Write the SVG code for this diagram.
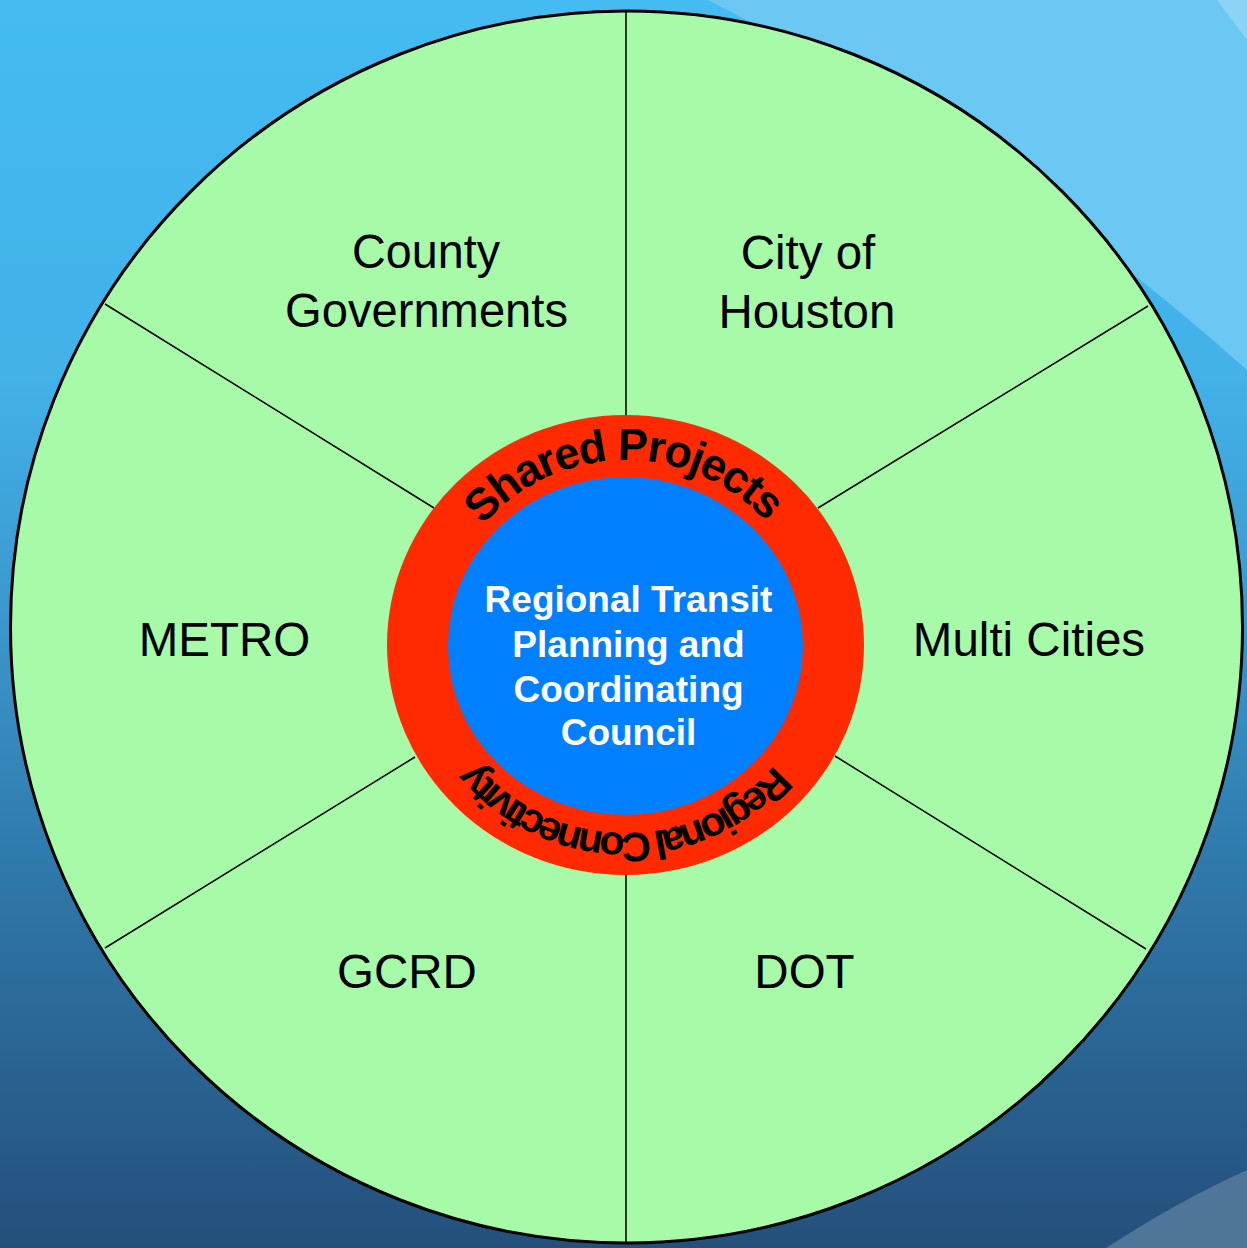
<svg xmlns="http://www.w3.org/2000/svg" width="1247" height="1248" viewBox="0 0 1247 1248">
  <defs>
    <linearGradient id="bg" x1="0" y1="0" x2="0" y2="1">
      <stop offset="0" stop-color="#44bbf1"/>
      <stop offset="0.3" stop-color="#42b2e9"/>
      <stop offset="0.5" stop-color="#3a97cc"/>
      <stop offset="0.7" stop-color="#2f78aa"/>
      <stop offset="1" stop-color="#244f7b"/>
    </linearGradient>
    <path id="arcTop" d="M 436 650 A 190 190 0 0 1 816 650"/>
    <path id="arcBottom" d="M 821 638 A 195 195 0 0 1 431 638"/>
  </defs>
  <style>
    .sector { font-family: "Liberation Sans", Arial, sans-serif; font-size: 47.5px; fill: #000; text-anchor: middle; }
    .center { font-family: "Liberation Sans", Arial, sans-serif; font-size: 37px; font-weight: bold; fill: #fff; text-anchor: middle; }
    .ring { font-family: "Liberation Sans", Arial, sans-serif; font-weight: bold; fill: #000; text-anchor: middle; }
    .conn { stroke: #000; stroke-width: 1.5; fill: none; }
  </style>

  <!-- background -->
  <rect x="0" y="0" width="1247" height="1248" fill="url(#bg)"/>
  <path d="M 708 0 Q 1000 150 1247 370 L 1247 0 Z" fill="#6ac8f3"/>
  <path d="M 1217 0 L 1247 40 L 1247 0 Z" fill="#8cd4f6"/>
  <path d="M 1106 1248 Q 1180 1200 1247 1170 L 1247 1248 Z" fill="#4f7599"/>

  <!-- outer wheel -->
  <g id="wheel">
    <circle cx="626.5" cy="627" r="616" fill="#a7faa7" stroke="#000" stroke-width="3"/>
  </g>

  <!-- connectors (spokes) -->
  <g id="connectors">
    <line class="conn" x1="626" y1="12" x2="626" y2="416"/>
    <line class="conn" x1="626" y1="874" x2="626" y2="1242"/>
    <line class="conn" x1="105" y1="304" x2="434" y2="508"/>
    <line class="conn" x1="1148" y1="306" x2="818" y2="508"/>
    <line class="conn" x1="105" y1="948" x2="415" y2="757"/>
    <line class="conn" x1="1146" y1="949" x2="835" y2="756"/>
  </g>

  <!-- hub -->
  <g id="hub">
    <ellipse cx="625.5" cy="645" rx="238.5" ry="230" fill="#ff2a00"/>
    <ellipse cx="625.5" cy="646" rx="177.5" ry="169" fill="#0080ff"/>
    <text class="ring" font-size="45" letter-spacing="-1.6"><textPath href="#arcTop" startOffset="49.5%">Shared Projects</textPath></text>
    <text class="ring" font-size="41" letter-spacing="-4.5"><textPath href="#arcBottom" startOffset="50%">Regional Connectivity</textPath></text>
    <text class="center" x="628.5" y="612">Regional Transit</text>
    <text class="center" x="628.5" y="657">Planning and</text>
    <text class="center" x="628.5" y="701.5">Coordinating</text>
    <text class="center" x="628.5" y="745">Council</text>
  </g>

  <!-- sectors -->
  <g id="county-governments">
    <text class="sector" font-size="41" x="426" y="267.5" textLength="148" lengthAdjust="spacingAndGlyphs">County</text>
    <text class="sector" font-size="41" x="426.5" y="326.5" textLength="283" lengthAdjust="spacingAndGlyphs">Governments</text>
  </g>
  <g id="city-of-houston">
    <text class="sector" font-size="46.5" x="808" y="269">City of</text>
    <text class="sector" font-size="46.5" x="807" y="328">Houston</text>
  </g>
  <g id="metro">
    <text class="sector" x="224.5" y="656">METRO</text>
  </g>
  <g id="multi-cities">
    <text class="sector" x="1029" y="656">Multi Cities</text>
  </g>
  <g id="gcrd">
    <text class="sector" x="407" y="988">GCRD</text>
  </g>
  <g id="dot">
    <text class="sector" x="804.5" y="988">DOT</text>
  </g>
</svg>
